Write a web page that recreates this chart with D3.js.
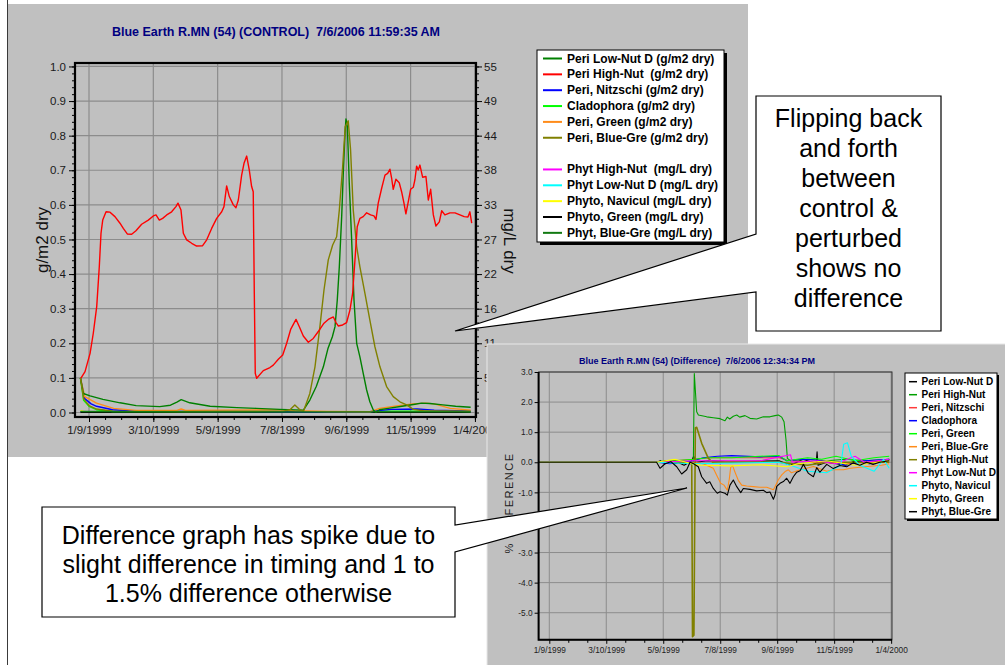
<!DOCTYPE html>
<html><head><meta charset="utf-8">
<script src="https://cdn.jsdelivr.net/npm/d3@7/dist/d3.min.js"></script>
<style>
html,body{margin:0;padding:0;background:#fff;}
svg{display:block;font-family:Arial,"Liberation Sans",Helvetica,sans-serif;}
</style></head><body>
<svg id="chart" width="1005" height="665"></svg>
<script>
// ---------------- DATA ----------------
// x values are days since 1999-01-01
const xTickDays = [8, 68, 128, 188, 248, 308, 368];
const xTickLabels = ["1/9/1999","3/10/1999","5/9/1999","7/8/1999","9/6/1999","11/5/1999","1/4/2000"];

const topTitle = "Blue Earth R.MN (54) (CONTROL)  7/6/2006 11:59:35 AM";
const botTitle = "Blue Earth R.MN (54) (Difference)  7/6/2006 12:34:34 PM";

const topLeftTicks = [0,0.1,0.2,0.3,0.4,0.5,0.6,0.7,0.8,0.9,1.0];
const topLeftLabels = ["0.0","0.1","0.2","0.3","0.4","0.5","0.6","0.7","0.8","0.9","1.0"];
const topRightTicks = [5.5,11,16.5,22,27.5,33,38.5,44,49.5,55];
const topRightLabels = ["5","11","16","22","27","33","38","44","49","55"];
const botYTicks = [3,2,1,0,-1,-2,-3,-4,-5];
const botYLabels = ["3.0","2.0","1.0","0.0","-1.0","-2.0","-3.0","-4.0","-5.0"];

const topNames = ["Peri Low-Nut D (g/m2 dry)","Peri High-Nut  (g/m2 dry)","Peri, Nitzschi (g/m2 dry)","Cladophora (g/m2 dry)","Peri, Green (g/m2 dry)","Peri, Blue-Gre (g/m2 dry)",
  "Phyt High-Nut  (mg/L dry)","Phyt Low-Nut D (mg/L dry)","Phyto, Navicul (mg/L dry)","Phyto, Green (mg/L dry)","Phyt, Blue-Gre (mg/L dry)"];
const topColors = ["#008000","#ff0000","#0000ff","#00ff00","#ff8c1a","#808000","#ff00ff","#00ffff","#ffff00","#000000","#127a12"];

const botNames = ["Peri Low-Nut D","Peri High-Nut","Peri, Nitzschi","Cladophora","Peri, Green","Peri, Blue-Gre","Phyt High-Nut","Phyt Low-Nut D","Phyto, Navicul","Phyto, Green","Phyt, Blue-Gre"];
const botColors = ["#000000","#00a000","#ff3c3c","#0000ff","#00ff00","#ff8c1a","#808000","#ff00ff","#00ffff","#ffff00","#000000"];

// top chart: periphyton in g/m2 (left axis)
const topPeriLowNut = [[0,0.1],[2.7,0.055],[9,0.048],[21,0.038],[37,0.028],[52,0.02],[74,0.017],[84,0.021],[90,0.03],[94,0.037],[102,0.028],[121,0.018],[146,0.014],[164,0.012],[186,0.009],[208,0.007],[214,0.036],[220,0.075],[226.6,0.132],[231,0.186],[235,0.219],[237.5,0.248],[239.6,0.325],[241.5,0.421],[243.7,0.566],[245.2,0.691],[246.8,0.807],[247.7,0.848],[249,0.826],[250.8,0.662],[253,0.499],[255.2,0.325],[257.7,0.2],[260.7,0.161],[263.8,0.113],[267,0.065],[270,0.031],[273.2,0.007],[275.7,0.001],[279,0.008],[287,0.012],[300,0.018],[312,0.024],[318,0.027],[326,0.026],[338,0.022],[350,0.018],[364,0.015]];
const topPeriHighNut = [[0.5,0.099],[4.3,0.118],[9,0.171],[12,0.229],[15.2,0.306],[17.6,0.421],[19.2,0.518],[20.8,0.556],[23.9,0.58],[27.6,0.579],[32.2,0.566],[36.9,0.547],[40,0.532],[43.7,0.516],[47.8,0.515],[51.8,0.525],[57.1,0.544],[63.3,0.556],[68,0.568],[70.5,0.571],[73.6,0.556],[76.7,0.561],[80.5,0.571],[85.1,0.58],[89.1,0.595],[91,0.605],[93.8,0.585],[96,0.518],[99.1,0.499],[103.8,0.489],[108.4,0.481],[114,0.482],[117.8,0.499],[122.4,0.532],[127.1,0.561],[131.8,0.58],[133.9,0.595],[136.4,0.655],[138.9,0.624],[142.6,0.6],[145.1,0.592],[147.3,0.614],[150.4,0.686],[152.6,0.72],[155.1,0.741],[157.5,0.701],[159.7,0.653],[161.2,0.638],[162.2,0.344],[163.1,0.113],[164.4,0.099],[170.6,0.121],[176.8,0.13],[179.9,0.137],[184.6,0.154],[188.7,0.166],[192.4,0.2],[196.1,0.24],[201.1,0.269],[204.2,0.248],[207.9,0.221],[212.6,0.203],[217.2,0.214],[221.9,0.234],[227.2,0.258],[231.2,0.269],[235.9,0.276],[238.4,0.26],[240.5,0.25],[244.6,0.253],[248.3,0.26],[251.4,0.296],[253.9,0.344],[256.1,0.441],[258.2,0.537],[260.7,0.561],[263.8,0.566],[267,0.577],[270.7,0.571],[273.8,0.568],[275.7,0.558],[277.8,0.605],[281,0.648],[284.1,0.686],[286.6,0.691],[288.7,0.703],[290.3,0.677],[291.8,0.645],[294.3,0.674],[297.4,0.664],[299.6,0.638],[301.8,0.605],[303.6,0.574],[305.8,0.609],[308,0.645],[310.5,0.651],[312,0.672],[313.6,0.712],[315.1,0.701],[316.7,0.715],[319.2,0.68],[322.3,0.682],[324.5,0.614],[326.7,0.645],[329.2,0.571],[331.6,0.539],[334.8,0.551],[337,0.583],[340,0.571],[344.7,0.577],[349.4,0.577],[354,0.571],[358,0.566],[361.5,0.565],[363.3,0.58],[365,0.547]];
const topPeriNitzschi = [[0,0.1],[4,0.04],[10,0.025],[15,0.018],[30,0.008],[50,0.004],[120,0.003],[200,0.002],[270,0.002],[280,0.006],[290,0.009],[314,0.01],[330,0.007],[350,0.005],[364,0.004]];
const topCladophora = [[0,0.1],[3,0.035],[8,0.018],[15,0.008],[30,0.003],[270,0.002],[275,0.004],[340,0.004],[364,0.003]];
const topPeriGreen = [[0,0.1],[4,0.046],[15,0.027],[31,0.012],[52,0.006],[90,0.006],[94,0.01],[98,0.006],[186,0.008],[200,0.005],[230,0.003],[270,0.002],[279,0.012],[295,0.019],[310,0.025],[322,0.027],[330,0.025],[345,0.012],[364,0.007]];
const topPeriBlueGre = [[0,0.1],[3,0.04],[8,0.02],[15,0.01],[30,0.004],[100,0.003],[189,0.004],[195.5,0.008],[200,0.022],[204,0.01],[208,0.003],[214,0.055],[218.8,0.132],[223.4,0.248],[227.2,0.354],[231.2,0.441],[235.3,0.484],[239,0.508],[241.5,0.585],[244.6,0.71],[247,0.826],[249.8,0.843],[252,0.759],[254.5,0.585],[257.7,0.479],[260.7,0.421],[265.4,0.344],[270,0.267],[274.7,0.19],[279.4,0.132],[285.6,0.075],[291.8,0.046],[298,0.031],[304.3,0.022],[310.5,0.009],[320,0.005],[364,0.004]];
// top chart: phytoplankton in mg/L (right axis)
const topPhytHighNut = [[0,0.1],[60,0.05],[200,0.05],[364,0.05]];
const topPhytLowNut = [[0,0.1],[60,0.05],[200,0.05],[364,0.05]];
const topPhytoNavicul = [[0,0.3],[5,0.1],[364,0.05]];
const topPhytoGreen = [[0,0.05],[240,0.05],[260,0.1],[275,0.05],[364,0.05]];
const topPhytBlueGre = [[0,0.15],[120,0.1],[364,0.1]];

// bottom chart: % difference
const botPeriLowNut = [[-3,0],[121,0],[125,0.05],[130,-0.05],[140,0.05],[150,-0.1],[158,0.05],[160,0.2],[162,0],[175,0.05],[200,0.02],[250,0.05],[262,-0.1],[275,0.1],[285,0],[289,-0.05],[290,0.35],[291,-0.1],[300,0],[320,-0.1],[330,0.05],[345,-0.05],[360,0.05],[366,0.1]];
const botPeriHighNut = [[-3,0],[121,0],[130,0.05],[140,-0.05],[150,0.03],[159.7,0],[160.7,2.95],[163.2,1.68],[165,1.57],[173.8,1.51],[180.7,1.48],[187.8,1.45],[193,1.38],[195.5,1.5],[198,1.44],[201.8,1.53],[205.4,1.57],[208.5,1.5],[214.1,1.55],[219.4,1.46],[226.4,1.44],[233.4,1.51],[240.4,1.51],[245.7,1.55],[249.2,1.57],[252.8,1.5],[255.2,1.35],[257.3,0.74],[258.7,0.13],[262,0.05],[280,0.1],[300,0.05],[320,0.1],[340,0.05],[366,0.1]];
const botPeriNitzschi = [[-3,0],[121,0],[140,0.05],[160,0.1],[180,0.15],[250,0.15],[260,0.05],[290,0],[320,-0.05],[366,0.05]];
const botCladophora = [[-3,0],[121,0],[135,-0.05],[160,0.05],[170,0.15],[185,0.2],[200,0.22],[230,0.18],[250,0.2],[258,0.05],[275,0.1],[300,0.05],[320,-0.1],[340,0.05],[366,0.1]];
const botPeriGreen = [[-3,0],[121,0],[140,0.05],[160,0.1],[175,0.15],[200,0.15],[230,0.2],[250,0.22],[258,0.05],[280,0.15],[295,0.1],[310,0.2],[330,0.05],[350,0.15],[366,0.2]];
const botPeriBlueGre = [[-3,0],[160,0],[170,-0.05],[180.7,-0.2],[184.9,-0.47],[188.5,-0.7],[192,-0.76],[195.5,-0.93],[197.6,-0.55],[199,-0.17],[201.1,-0.12],[203.6,-0.33],[207,-0.6],[210.6,-0.76],[215.9,-0.79],[222.8,-0.81],[229.9,-0.83],[237,-0.83],[244,-0.91],[246,-0.8],[249.2,-0.58],[252.8,-0.42],[256.3,-0.31],[259.8,-0.25],[263,-0.35],[266.8,-0.31],[272,-0.25],[279,-0.2],[286.1,-0.14],[300.2,-0.3],[307.1,-0.25],[318,-0.25],[325,-0.2],[340,-0.15],[358,-0.1],[366,-0.05]];
const botPhytHighNut = [[-3,0],[121,0],[140,0.02],[158,-0.05],[158.8,-5.8],[160.3,-5.75],[161.8,1.15],[163.2,1.16],[168.5,0.63],[175.5,0.13],[180,0],[200,0.02],[250,0],[280,-0.1],[300,0],[366,0]];
const botPhytLowNut = [[-3,0],[121,0],[160,0.05],[230,0.05],[262,0.25],[264,0],[290,0.05],[310,-0.05],[330,0.2],[340,0],[366,0.1]];
const botPhytoNavicul = [[-3,0],[121,0],[160,-0.05],[250,0],[262,-0.1],[280,-0.3],[300,-0.35],[315,-0.1],[318,0.6],[322,0.65],[326,0.2],[335,-0.1],[350,-0.3],[360,0.1],[366,-0.2]];
const botPhytoGreen = [[-3,0],[121,0],[140,0.1],[158,-0.05],[168,-0.1],[200,-0.12],[230,-0.08],[258,-0.15],[270,-0.05],[300,0.05],[330,-0.1],[366,0.05]];
const botPhytBlueGre = [[-3,0],[121,0],[124.6,-0.2],[129.9,-0.05],[136,0.02],[142.2,-0.15],[147.4,-0.39],[152.7,-0.25],[156.2,0],[160,-0.05],[164.9,-0.15],[168.5,-0.48],[173.7,-0.7],[177,-0.65],[180.7,-0.87],[184.9,-1.03],[187.8,-0.98],[193,-1.03],[195.5,-1.09],[198.3,-0.76],[201.8,-0.59],[205.4,-0.81],[209.6,-1.01],[212.3,-0.87],[219.4,-0.9],[226.4,-0.95],[233.4,-0.93],[237,-1.01],[240.4,-0.99],[244,-1.23],[245.7,-1.09],[247.5,-0.8],[251,-0.7],[254.5,-0.64],[258,-0.53],[261.5,-0.7],[265,-0.48],[268.6,-0.33],[272.1,-0.28],[275.6,-0.07],[280.9,-0.37],[286.1,-0.48],[289.6,-0.18],[293,-0.33],[300.2,-0.07],[307.1,-0.21],[314,-0.11],[321.2,-0.15],[328,-0.02],[335,-0.1],[342,0],[349,-0.07],[356,0],[366,0.05]];

// ---------------- DRAW ----------------
const svg = d3.select("#chart");
svg.append("rect").attr("width",1005).attr("height",665).attr("fill","#fff");
svg.append("line").attr("x1",7.5).attr("x2",7.5).attr("y1",0).attr("y2",665).attr("stroke","#3a3a3a");

function styleAxis(g, fs, col){
  g.select(".domain").remove();
  g.selectAll("text").attr("font-size",fs).attr("fill",col||"#1a1a1a");
  g.selectAll("line").attr("stroke","#000");
}

// ===== TOP CHART =====
const T = svg.append("g");
T.append("rect").attr("x",8).attr("y",4).attr("width",740).attr("height",453).attr("fill","#c0c0c0");
const tL=75, tR=476, tT=63, tB=417;
const tx = d3.scaleLinear().domain([-5.06,369]).range([tL,tR]);
const ty = d3.scaleLinear().domain([-0.013,1.01]).range([tB,tT]);
const tyR = d3.scaleLinear().domain([-0.013*55,1.01*55]).range([tB,tT]);

T.append("text").attr("x",276).attr("y",36).attr("text-anchor","middle").attr("font-size",12.5).attr("font-weight","bold")
 .attr("fill","#000080").style("white-space","pre").text(topTitle);

T.selectAll(".hg").data(topLeftTicks).join("line").attr("x1",tL).attr("x2",tR)
 .attr("y1",d=>ty(d)).attr("y2",d=>ty(d)).attr("stroke","#8c8c8c").attr("stroke-width",1.2);
T.selectAll(".vg").data(xTickDays).join("line").attr("y1",tT).attr("y2",tB)
 .attr("x1",d=>tx(d)).attr("x2",d=>tx(d)).attr("stroke","#8c8c8c").attr("stroke-width",1.2);

T.append("g").attr("transform",`translate(${tL},0)`)
 .call(d3.axisLeft(ty).tickValues(d3.range(0,1.001,0.02)).tickSize(3).tickFormat(""))
 .call(g=>styleAxis(g,0));
T.append("g").attr("transform",`translate(${tL},0)`)
 .call(d3.axisLeft(ty).tickValues(topLeftTicks).tickFormat((d,i)=>topLeftLabels[i]).tickSize(6).tickPadding(3))
 .call(g=>styleAxis(g,11.5));
T.append("g").attr("transform",`translate(${tR},0)`)
 .call(d3.axisRight(tyR).tickValues(d3.range(0,55.01,1.1)).tickSize(3).tickFormat(""))
 .call(g=>styleAxis(g,0));
T.append("g").attr("transform",`translate(${tR},0)`)
 .call(d3.axisRight(tyR).tickValues(topRightTicks).tickFormat((d,i)=>topRightLabels[i]).tickSize(6).tickPadding(2))
 .call(g=>styleAxis(g,11.5));
T.append("g").attr("transform",`translate(0,${tB})`)
 .call(d3.axisBottom(tx).tickValues(d3.range(-7,369,15).filter(d=>d>-5)).tickSize(3).tickFormat(""))
 .call(g=>styleAxis(g,0));
T.append("g").attr("transform",`translate(0,${tB})`)
 .call(d3.axisBottom(tx).tickValues(xTickDays).tickFormat((d,i)=>xTickLabels[i]).tickSize(5).tickPadding(4))
 .call(g=>styleAxis(g,11.5));

T.append("text").attr("transform","translate(48,240) rotate(-90)").attr("text-anchor","middle")
 .attr("font-size",17).attr("fill","#111").text("g/m2 dry");
T.append("text").attr("transform","translate(504,241) rotate(90)").attr("text-anchor","middle")
 .attr("font-size",17).attr("fill","#111").text("mg/L dry");

svg.append("clipPath").attr("id","clipT").append("rect").attr("x",tL).attr("y",tT).attr("width",tR-tL).attr("height",tB-tT);
const topSeries = [
  {d:topPeriLowNut,c:topColors[0],ax:ty},{d:topPeriHighNut,c:topColors[1],ax:ty},{d:topPeriNitzschi,c:topColors[2],ax:ty},
  {d:topCladophora,c:topColors[3],ax:ty},{d:topPeriGreen,c:topColors[4],ax:ty},{d:topPeriBlueGre,c:topColors[5],ax:ty},
  {d:topPhytHighNut,c:topColors[6],ax:tyR},{d:topPhytLowNut,c:topColors[7],ax:tyR},{d:topPhytoNavicul,c:topColors[8],ax:tyR},
  {d:topPhytoGreen,c:topColors[9],ax:tyR},{d:topPhytBlueGre,c:topColors[10],ax:tyR}];
const drawOrder = [8,7,6,9,3,2,4,0,5,10,1];
const gTL = T.append("g").attr("clip-path","url(#clipT)");
drawOrder.forEach(i=>{
  const s=topSeries[i];
  gTL.append("path").datum(s.d).attr("fill","none").attr("stroke",s.c).attr("stroke-width",1.4)
   .attr("stroke-linejoin","round").attr("d",d3.line().x(p=>tx(p[0])).y(p=>s.ax(p[1])));
});
// frame
T.append("rect").attr("x",tL).attr("y",tT).attr("width",tR-tL).attr("height",tB-tT).attr("fill","none").attr("stroke","#000").attr("stroke-width",2.2);

// top legend
const tlg = T.append("g").attr("transform","translate(537,50)");
tlg.append("rect").attr("x",3).attr("y",3).attr("width",187).attr("height",192).attr("fill","#000");
tlg.append("rect").attr("width",187).attr("height",192).attr("fill","#fff").attr("stroke","#000");
topNames.forEach((n,i)=>{
  const yy = 8.5 + 15.85*(i<6?i:i+1);
  tlg.append("line").attr("x1",6).attr("x2",25).attr("y1",yy).attr("y2",yy).attr("stroke",topColors[i]).attr("stroke-width",2);
  tlg.append("text").attr("x",30).attr("y",yy+4).attr("font-size",12).attr("font-weight","bold").style("white-space","pre").text(n);
});

// ===== BOTTOM CHART =====
const B = svg.append("g");
B.append("rect").attr("x",487).attr("y",344).attr("width",525).attr("height",330).attr("fill","#c0c0c0").attr("stroke","#e8e8e8");
const bL=538.6, bR=892, bT=372, bB=639.8;
const bx = d3.scaleLinear().domain([-3.27,368.9]).range([bL,bR]);
const by = d3.scaleLinear().domain([-5.9,3.0]).range([bB,bT]);

B.append("text").attr("x",697).attr("y",364).attr("text-anchor","middle").attr("font-size",9).attr("font-weight","bold")
 .attr("fill","#000080").style("white-space","pre").text(botTitle);

B.selectAll(".hg").data(botYTicks).join("line").attr("x1",bL).attr("x2",bR)
 .attr("y1",d=>by(d)).attr("y2",d=>by(d)).attr("stroke","#8c8c8c").attr("stroke-width",1);
B.selectAll(".vg").data(xTickDays).join("line").attr("y1",bT).attr("y2",bB)
 .attr("x1",d=>bx(d)).attr("x2",d=>bx(d)).attr("stroke","#8c8c8c").attr("stroke-width",1);

B.append("g").attr("transform",`translate(${bL},0)`)
 .call(d3.axisLeft(by).tickValues(botYTicks).tickFormat((d,i)=>botYLabels[i]).tickSize(4).tickPadding(2))
 .call(g=>styleAxis(g,8.3,"#222"));
B.append("g").attr("transform",`translate(0,${bB})`)
 .call(d3.axisBottom(bx).tickValues(d3.range(28,369,20).filter(d=>xTickDays.indexOf(d)<0)).tickSize(3).tickFormat(""))
 .call(g=>styleAxis(g,0));
B.append("g").attr("transform",`translate(0,${bB})`)
 .call(d3.axisBottom(bx).tickValues(xTickDays).tickFormat((d,i)=>xTickLabels[i]).tickSize(4).tickPadding(3))
 .call(g=>styleAxis(g,8.3,"#222"));

B.append("text").attr("transform","translate(513,503) rotate(-90)").attr("text-anchor","middle")
 .attr("font-size",11).attr("letter-spacing",1.5).attr("fill","#222").text("% DIFFERENCE");

svg.append("clipPath").attr("id","clipB").append("rect").attr("x",bL).attr("y",bT).attr("width",bR-bL).attr("height",bB-bT);
const botSeries = [botPeriLowNut,botPeriHighNut,botPeriNitzschi,botCladophora,botPeriGreen,botPeriBlueGre,botPhytHighNut,botPhytLowNut,botPhytoNavicul,botPhytoGreen,botPhytBlueGre];
const gBL = B.append("g").attr("clip-path","url(#clipB)");
botSeries.forEach((d,i)=>{
  gBL.append("path").datum(d).attr("fill","none").attr("stroke",botColors[i]).attr("stroke-width",i==6?1.6:1.1)
   .attr("stroke-linejoin","round").attr("d",d3.line().x(p=>bx(p[0])).y(p=>by(p[1])));
});
B.append("rect").attr("x",bL).attr("y",bT).attr("width",bR-bL).attr("height",bB-bT).attr("fill","none").attr("stroke","#333").attr("stroke-width",1);
B.append("path").attr("d",`M${bL},${bT}V${bB}H${bR}`).attr("fill","none").attr("stroke","#000").attr("stroke-width",2);

// bottom legend
const blg = B.append("g").attr("transform","translate(905,373)");
blg.append("rect").attr("x",2).attr("y",2).attr("width",92).attr("height",146).attr("fill","#000");
blg.append("rect").attr("width",92).attr("height",146).attr("fill","#fff").attr("stroke","#000");
botNames.forEach((n,i)=>{
  const yy = 8.7 + 13*i;
  blg.append("line").attr("x1",4).attr("x2",12).attr("y1",yy).attr("y2",yy).attr("stroke",botColors[i]).attr("stroke-width",1.5);
  blg.append("text").attr("x",16.5).attr("y",yy+3.5).attr("font-size",10).attr("font-weight","bold").text(n);
});

// ===== CALLOUTS =====
const C = svg.append("g");
C.append("path").attr("d","M756,96H941V331H756V292L455,331L756,234Z").attr("fill","#fff").attr("stroke","#000").attr("stroke-width",1.2);
const c1 = ["Flipping back","and forth","between","control &","perturbed","shows no","difference"];
c1.forEach((t,i)=>C.append("text").attr("x",848.5).attr("y",126.5+30*i).attr("text-anchor","middle").attr("font-size",25).attr("fill","#000").text(t));
C.append("path").attr("d","M42,507H455V525L687,488L455,552V617H42Z").attr("fill","#fff").attr("stroke","#000").attr("stroke-width",1.2);
const c2 = ["Difference graph has spike due to","slight difference in timing and 1 to","1.5% difference otherwise"];
c2.forEach((t,i)=>C.append("text").attr("x",248.5).attr("y",543.5+29.3*i).attr("text-anchor","middle").attr("font-size",25).attr("fill","#000").text(t));
</script>
</body></html>
